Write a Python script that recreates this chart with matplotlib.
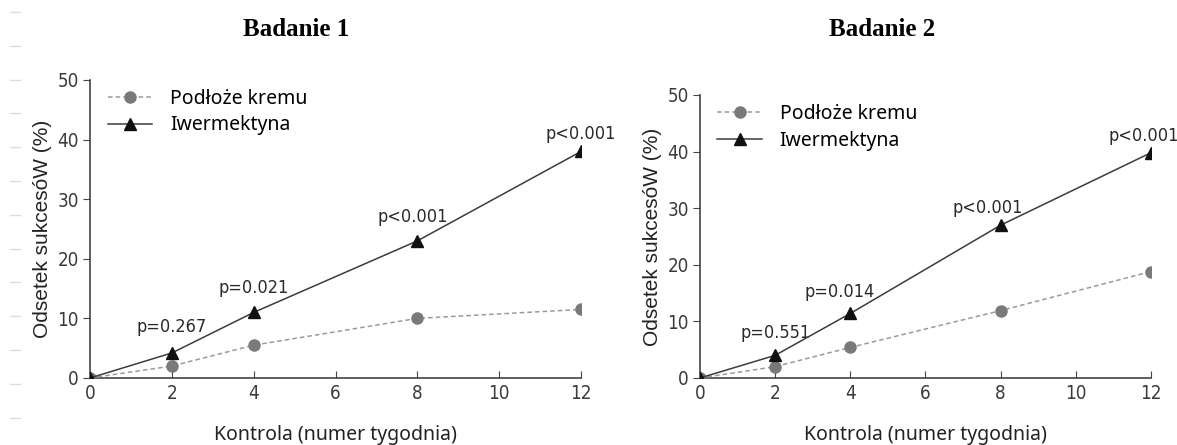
import matplotlib
matplotlib.use("Agg")
import matplotlib.pyplot as plt
from matplotlib.lines import Line2D

# data
weeks = [0, 2, 4, 8, 12]
vehicle_1 = [0, 2.0, 5.5, 10.0, 11.5]
ivermectin_1 = [0, 4.2, 11.0, 23.0, 38.0]
vehicle_2 = [0, 2.0, 5.4, 11.9, 18.8]
ivermectin_2 = [0, 4.0, 11.4, 27.0, 39.8]
pvals_1 = ["p=0.267", "p=0.021", "p<0.001", "p<0.001"]
pvals_2 = ["p=0.551", "p=0.014", "p<0.001", "p<0.001"]
# label offsets in pixels (dx, dy) relative to the triangle
poff_1 = [(0, 26), (0, 24), (-5, 24), (0, 17)]
poff_2 = [(0, 22), (-11, 21), (-13, 17), (-7, 17)]
titles = ["Badanie 1", "Badanie 2"]
xticks = [0, 2, 4, 6, 8, 10, 12]
yticks = [0, 10, 20, 30, 40, 50]

tick_col = "#3a3a3a"
cond = dict(family="DejaVu Sans", stretch="condensed")

fig = plt.figure(figsize=(11.77, 4.45), dpi=100)
ax1 = fig.add_axes([0.0765, 0.1506, 0.4171, 0.6697])
ax2 = fig.add_axes([0.5947, 0.1506, 0.3832, 0.6360])

panels = [(ax1, vehicle_1, ivermectin_1, pvals_1, poff_1),
          (ax2, vehicle_2, ivermectin_2, pvals_2, poff_2)]

for ax, veh, iver, pv, off in panels:
    ax.plot(weeks, veh, linestyle=(0, (3, 2)), color="#9a9a9a", lw=1.1,
            marker="o", ms=8, mfc="#7a7a7a", mec="#7a7a7a", zorder=3)
    ax.plot(weeks, iver, linestyle="-", color="#3c3c3c", lw=1.1,
            marker="^", ms=9, mfc="#111111", mec="#111111", zorder=4)
    for x, y, t, (dx, dy) in zip(weeks[1:], iver[1:], pv, off):
        ax.annotate(t, (x, y), xytext=(dx, dy), textcoords="offset pixels",
                    ha="center", va="center", fontsize=13, color="#2a2a2a",
                    **cond)
    ax.set_xlim(0, 12)
    ax.set_ylim(0, 50)
    ax.set_xticks(xticks)
    ax.set_yticks(yticks)
    ax.spines["top"].set_visible(False)
    ax.spines["right"].set_visible(False)
    for s in ("left", "bottom"):
        ax.spines[s].set_color("#444444")
        ax.spines[s].set_linewidth(1.2)
    ax.tick_params(axis="x", direction="in", length=5, pad=4, colors="#444444",
                   labelcolor=tick_col)
    ax.tick_params(axis="y", direction="out", length=5, pad=3, colors="#444444",
                   labelcolor=tick_col)
    for lab in ax.get_xticklabels() + ax.get_yticklabels():
        lab.set_family("DejaVu Sans")
        lab.set_stretch("condensed")
        lab.set_fontsize(13.5)
    ax.set_xlabel("Kontrola (numer tygodnia)", family="Noto Sans", fontsize=14,
                  color="#222222", labelpad=16)
    ax.set_ylabel("Odsetek sukcesóW (%)", family="Liberation Sans", fontsize=15,
                  color="#222222", labelpad=4)

    handles = [Line2D([], [], linestyle=(0, (3, 2)), color="#9a9a9a", lw=1.1,
                      marker="o", ms=8, mfc="#7a7a7a", mec="#7a7a7a"),
               Line2D([], [], linestyle="-", color="#3c3c3c", lw=1.1,
                      marker="^", ms=9, mfc="#111111", mec="#111111")]
    ax.legend(handles, ["Podłoże kremu", "Iwermektyna"], loc="upper left",
              bbox_to_anchor=(0.0, 1.03), frameon=False, handlelength=2.3,
              handletextpad=0.9, labelspacing=0.35,
              prop={"family": "Noto Sans", "size": 14})

fig.text(296 / 1177, 1 - 30 / 445, titles[0], ha="center", va="center",
         family="Liberation Serif", fontweight="bold", fontsize=18)
fig.text(882 / 1177, 1 - 30 / 445, titles[1], ha="center", va="center",
         family="Liberation Serif", fontweight="bold", fontsize=18)

# faint ruler marks along the left edge of the scan
for k in range(13):
    yy = 1 - (12 + 33.8 * k) / 445
    fig.add_artist(Line2D([10 / 1177, 20 / 1177], [yy, yy], color="#dcdcdc", lw=1))

fig.savefig("out.png", dpi=100)
